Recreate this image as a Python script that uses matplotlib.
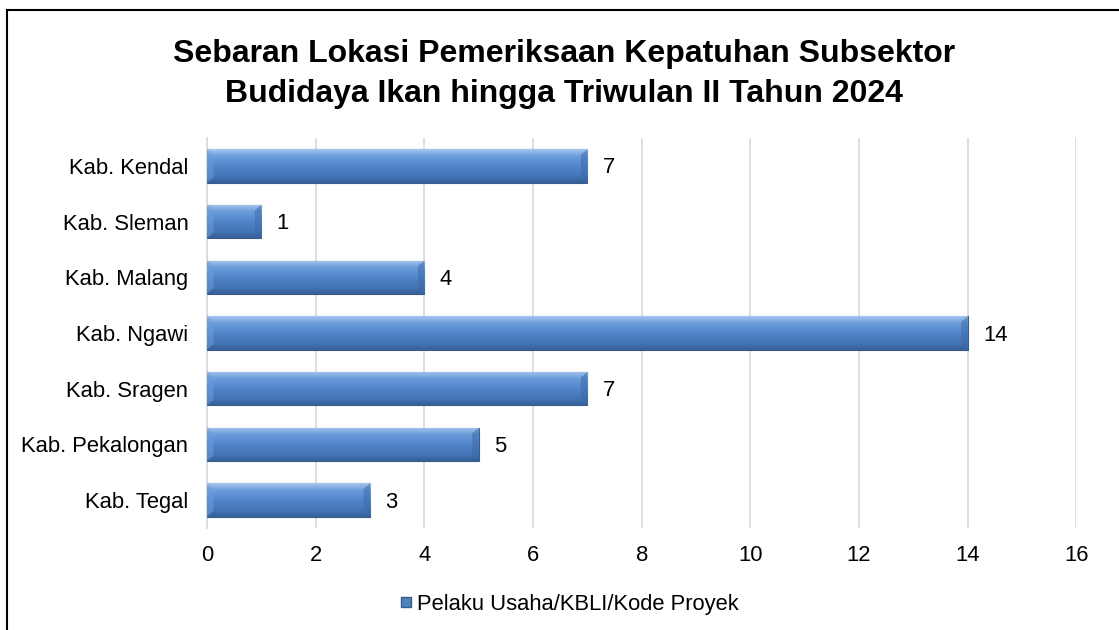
"""
Sebaran lokasi pemeriksaan kepatuhan subsektor budidaya ikan (TW II 2024).
Horizontal bar chart with bevel-style bars, saved to out.png.
"""

import matplotlib.pyplot as plt
import numpy as np
from matplotlib.colors import LinearSegmentedColormap
from matplotlib.lines import Line2D
from matplotlib.patches import Polygon

plt.rcParams["font.family"] = ["Liberation Sans", "DejaVu Sans"]

# data, top to bottom as shown
locations = [
    "Kab. Kendal",
    "Kab. Sleman",
    "Kab. Malang",
    "Kab. Ngawi",
    "Kab. Sragen",
    "Kab. Pekalongan",
    "Kab. Tegal",
]
counts = [7, 1, 4, 14, 7, 5, 3]
x_ticks = [0, 2, 4, 6, 8, 10, 12, 14, 16]
series_name = "Pelaku Usaha/KBLI/Kode Proyek"
title = "Sebaran Lokasi Pemeriksaan Kepatuhan Subsektor\nBudidaya Ikan hingga Triwulan II Tahun 2024"

BAR_COLOR = "#4F81BD"
EDGE_COLOR = "#385D8A"
FS = 15.8
bevel = LinearSegmentedColormap.from_list(
    "bevel", ["#36609A", "#4475B6", "#4C80C4", "#5A8ED1", "#6D9DDB", "#A6C6EE"]
)

fig = plt.figure(figsize=(11.19, 6.30), dpi=100)
ax = fig.add_axes([0.185, 0.162, 0.777, 0.619])

y = np.arange(len(locations))[::-1]
bars = ax.barh(y, counts, height=0.6, color=BAR_COLOR, edgecolor=EDGE_COLOR,
               linewidth=0.8, zorder=3)

# vertical gradient clipped to each bar, plus a darker bevel at both ends
grad = np.linspace(0, 1, 64).reshape(-1, 1)
for bar in bars:
    x0, y0 = bar.get_x(), bar.get_y()
    w, h = bar.get_width(), bar.get_height()
    im = ax.imshow(grad, cmap=bevel, aspect="auto", origin="lower",
                   extent=(x0, x0 + w, y0, y0 + h), zorder=3.5)
    im.set_clip_path(bar)
    bw = 0.12
    ax.add_patch(Polygon([(x0 + w, y0), (x0 + w, y0 + h), (x0 + w - bw, y0 + h - 0.1),
                          (x0 + w - bw, y0 + 0.1)], closed=True,
                         facecolor="#3D6BA8", alpha=0.55, lw=0, zorder=3.6))
    ax.add_patch(Polygon([(x0, y0), (x0, y0 + h), (x0 + bw, y0 + h - 0.1),
                          (x0 + bw, y0 + 0.1)], closed=True,
                         facecolor="#6E9DDA", alpha=0.5, lw=0, zorder=3.6))

for yi, val in zip(y, counts):
    ax.annotate(str(val), (val, yi), xytext=(11, -1.5), textcoords="offset points",
                va="center", ha="left", fontsize=FS)

ax.set_xlim(0, 16)
ax.set_ylim(-0.5, len(locations) - 0.5)
ax.set_xticks(x_ticks)
ax.set_yticks(y)
ax.set_yticklabels(locations)
ax.tick_params(axis="both", length=0, labelsize=FS)
ax.tick_params(axis="y", pad=13.5)
ax.tick_params(axis="x", pad=12)
ax.grid(axis="x", color="#D9D9D9", linewidth=1.2, zorder=0)
for side in ["top", "right", "bottom"]:
    ax.spines[side].set_visible(False)
ax.spines["left"].set_color("#D9D9D9")
ax.spines["left"].set_linewidth(1.2)

fig.text(0.504, 0.883, title, ha="center", va="center", fontsize=23,
         fontweight="bold", linespacing=1.42)

handle = Line2D([], [], marker="s", linestyle="none", markersize=7,
                markerfacecolor=BAR_COLOR, markeredgecolor=EDGE_COLOR)
fig.legend([handle], [series_name], loc="center", bbox_to_anchor=(0.508, 0.041),
           frameon=False, fontsize=FS, handletextpad=0.1, handlelength=0.8)

# chart frame: only left and top edges are visible in the crop
fig.add_artist(Line2D([0.0065, 0.0065], [0.0, 0.984], transform=fig.transFigure,
                      color="black", linewidth=1.5))
fig.add_artist(Line2D([0.0065, 1.0], [0.984, 0.984], transform=fig.transFigure,
                      color="black", linewidth=1.5))

fig.savefig("out.png", dpi=100)
